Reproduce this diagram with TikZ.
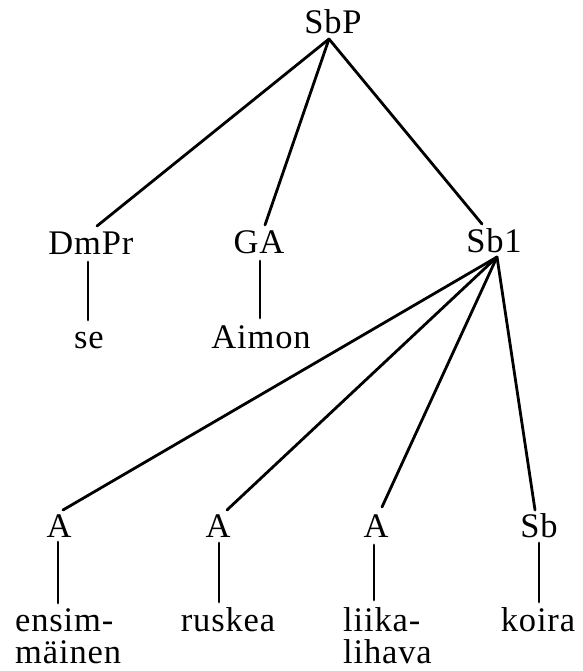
\documentclass[tikz,border=0pt]{standalone}
\usepackage{fontspec}
\setmainfont{Liberation Serif}[LetterSpace=2.5]
\begin{document}
\begin{tikzpicture}[x=1pt,y=-1pt,
  lbl/.style={inner sep=0pt, anchor=base, font=\fontsize{34.5}{36}\selectfont},
  edge/.style={line width=2.8pt, line cap=round, line join=round}]
\useasboundingbox (0,0) rectangle (582,671);
% labels
\node[lbl] (SbP) at (333,34) {SbP};
\node[lbl] (DmPr) at (91,254) {DmPr};
\node[lbl] (GA) at (259,253) {GA};
\node[lbl] (Sb1) at (494,252) {Sb1};
\node[lbl] (se) at (89,348) {se};
\node[lbl] (Aimon) at (261,348) {Aimon};
\node[lbl] (A1) at (59,537) {A};
\node[lbl] (A2) at (218,537) {A};
\node[lbl] (A3) at (376,537) {A};
\node[lbl] (Sb) at (539,537) {Sb};
\node[lbl, anchor=base west] (ensim) at (15,631) {ensim-};
\node[lbl, anchor=base west] (mainen) at (15,663) {mäinen};
\node[lbl] (ruskea) at (228,631) {ruskea};
\node[lbl, anchor=base west] (liika) at (343,631) {liika-};
\node[lbl, anchor=base west] (lihava) at (343,663) {lihava};
\node[lbl] (koira) at (538,631) {koira};
% attachment points
\coordinate (SbP-b) at (329,39);
\coordinate (DmPr-t) at (97,226);
\coordinate (GA-t) at (265,225);
\coordinate (Sb1-t) at (482,224);
\coordinate (Sb1-b) at (497,257);
\coordinate (A1-t) at (63,510);
\coordinate (A2-t) at (227,510);
\coordinate (A3-t) at (382,507);
\coordinate (Sb-t) at (535,510);
\coordinate (DmPr-b) at (88,262);
\coordinate (se-t) at (88,320);
\coordinate (GA-b) at (260,261);
\coordinate (Aimon-t) at (260,318);
\coordinate (A1-b) at (58,542);
\coordinate (ensim-t) at (58,603);
\coordinate (A2-b) at (219,543);
\coordinate (ruskea-t) at (219,602);
\coordinate (A3-b) at (374,545);
\coordinate (liika-t) at (374,600);
\coordinate (Sb-b) at (539,543);
\coordinate (koira-t) at (539,602);
% connectors
\draw[edge] (SbP-b) -- (DmPr-t);
\draw[edge] (SbP-b) -- (GA-t);
\draw[edge] (SbP-b) -- (Sb1-t);
\draw[edge] (Sb1-b) -- (A1-t);
\draw[edge] (Sb1-b) -- (A2-t);
\draw[edge] (Sb1-b) -- (A3-t);
\draw[edge] (Sb1-b) -- (Sb-t);
\draw[edge] (DmPr-b) -- (se-t);
\draw[edge] (GA-b) -- (Aimon-t);
\draw[edge] (A1-b) -- (ensim-t);
\draw[edge] (A2-b) -- (ruskea-t);
\draw[edge] (A3-b) -- (liika-t);
\draw[edge] (Sb-b) -- (koira-t);
\end{tikzpicture}
\end{document}
